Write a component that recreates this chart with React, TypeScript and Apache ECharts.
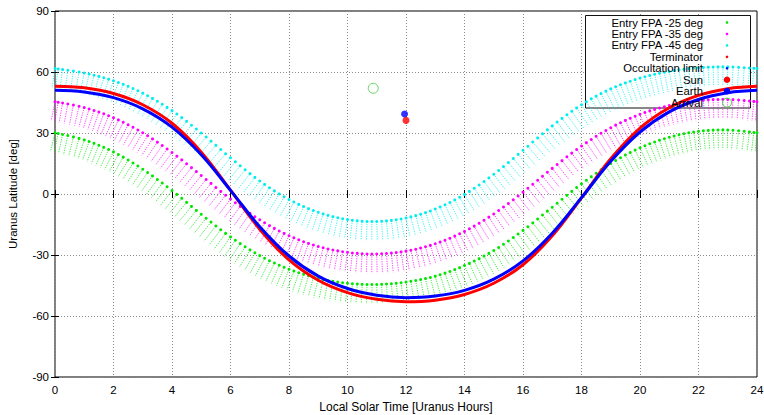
import React, { useEffect, useRef } from 'react';
import * as echarts from 'echarts';

const HOURS = [0, 1, 2, 3, 4, 5, 6, 7, 8, 9, 10, 11, 12, 13, 14, 15, 16, 17, 18, 19, 20, 21, 22, 23, 24];

const FPA25_UPPER = [30.1, 26.6, 20.7, 12.2, 1.7, -10.0, -21.1, -30.3, -37.0, -41.5, -43.9, -44.5, -43.3, -40.4, -35.2, -27.8, -17.9, -6.5, 5.0, 15.0, 22.7, 27.9, 30.8, 31.5, 30.1];
const FPA25_LOWER = [20.5, 16.5, 9.9, 0.8, -10.4, -22.2, -33.0, -41.5, -47.5, -51.4, -53.5, -54.0, -53.0, -50.4, -45.9, -39.2, -30.0, -18.7, -6.9, 3.8, 12.2, 17.9, 21.2, 22.0, 20.5];
const FPA35_UPPER = [45.4, 42.5, 37.5, 30.1, 20.4, 9.1, -2.5, -12.7, -20.5, -25.8, -28.7, -29.5, -28.1, -24.5, -18.4, -9.8, 0.9, 12.6, 23.6, 32.6, 39.2, 43.5, 45.9, 46.5, 45.4];
const FPA35_LOWER = [35.7, 32.4, 26.8, 18.8, 8.5, -3.0, -14.3, -23.8, -31.0, -35.7, -38.3, -39.0, -37.8, -34.5, -29.1, -21.2, -11.0, 0.5, 11.8, 21.5, 28.8, 33.6, 36.3, 37.0, 35.7];
const FPA45_UPPER = [61.7, 59.5, 55.7, 49.6, 41.0, 30.0, 17.8, 6.4, -2.7, -9.0, -12.6, -13.5, -11.8, -7.4, -0.2, 9.7, 21.5, 33.5, 43.9, 51.7, 57.0, 60.3, 62.1, 62.5, 61.7];
const FPA45_LOWER = [52.0, 49.4, 44.8, 38.0, 28.7, 17.4, 5.6, -5.0, -13.3, -19.0, -22.2, -23.0, -21.5, -17.6, -11.1, -2.0, 9.1, 20.9, 31.7, 40.3, 46.4, 50.3, 52.5, 53.0, 52.0];
const TERMINATOR = [53.0, 52.2, 49.4, 43.9, 34.8, 20.6, 1.9, -17.3, -32.4, -42.4, -48.5, -51.8, -53.0, -52.2, -49.4, -43.9, -34.8, -20.6, -1.9, 17.3, 32.4, 42.4, 48.5, 51.8, 53.0];
const OCCULTATION = [51.0, 50.2, 47.4, 41.9, 32.9, 19.3, 1.8, -16.1, -30.5, -40.4, -46.5, -49.8, -51.0, -50.2, -47.4, -41.9, -32.9, -19.3, -1.8, 16.1, 30.5, 40.4, 46.5, 49.8, 51.0];

const SUN = [12.0, 36.2];
const EARTH = [11.95, 39.3];
const ARRIVAL = [10.88, 52.0];

const LEGEND_LABELS = [
  'Entry FPA -25 deg',
  'Entry FPA -35 deg',
  'Entry FPA -45 deg',
  'Terminator',
  'Occultation limit',
  'Sun',
  'Earth',
  'Arrival',
];

const GREEN = '#00e600';
const MAGENTA = '#ff00ff';
const CYAN = '#00eeee';
const RED = '#ff0000';
const BLUE = '#0000ff';
const FONT = 'Liberation Sans, Arial, Helvetica, sans-serif';

function cr(P: number[][], f: number, c: number) {
  const p0 = P[0][c], p1 = P[1][c], p2 = P[2][c], p3 = P[3][c];
  return 0.5 * (2 * p1 + (-p0 + p2) * f + (2 * p0 - 5 * p1 + 4 * p2 - p3) * f * f + (-p0 + 3 * p1 - 3 * p2 + p3) * f * f * f);
}
function crd(P: number[][], f: number, c: number) {
  const p0 = P[0][c], p1 = P[1][c], p2 = P[2][c], p3 = P[3][c];
  return 0.5 * ((-p0 + p2) + 2 * (2 * p0 - 5 * p1 + 4 * p2 - p3) * f + 3 * (-p0 + 3 * p1 - 3 * p2 + p3) * f * f);
}

function bandRenderer(up: number[], low: number[], color: string) {
  const n = HOURS.length;
  const cl = (k: number) => Math.max(0, Math.min(n - 1, k));
  return (params: any, api: any) => {
    const i = params.dataIndex;
    if (i >= n - 1) return { type: 'group', children: [] };
    const ks = [i - 1, i, i + 1, i + 2].map(cl);
    const pu = ks.map((k) => api.coord([HOURS[k], up[k]]));
    const pl = ks.map((k) => api.coord([HOURS[k], low[k]]));
    const steps = 6;
    const count = i === n - 2 ? steps + 1 : steps;
    const hatches: any[] = [];
    const dots: any[] = [];
    for (let s = 0; s < count; s++) {
      const f = s / steps;
      const ux = cr(pu, f, 0), uy = cr(pu, f, 1);
      const ly = cr(pl, f, 1);
      const dx = crd(pu, f, 0), dy = crd(pu, f, 1);
      const g = ly - uy;
      const d2 = dx * dx + dy * dy;
      const ex = ux - (dy * g * dx) / d2;
      const ey = uy + (dx * dx * g) / d2;
      hatches.push({
        type: 'line',
        shape: { x1: ux, y1: uy, x2: ex, y2: ey },
        style: { stroke: color, lineWidth: 1, lineDash: [1.3, 1.1], opacity: 0.7 },
        silent: true,
      });
      dots.push({
        type: 'circle',
        shape: { cx: ux, cy: uy, r: 1.5 },
        style: { fill: color },
        silent: true,
      });
    }
    return { type: 'group', children: hatches.concat(dots) };
  };
}

function bandData(up: number[], low: number[]) {
  return HOURS.map((t, i) => [t, up[i], low[i]]);
}

const LEGEND_Y0 = 22.5;
const LEGEND_DY = 11.45;

function legendGraphics() {
  const els: any[] = [
    {
      type: 'rect',
      shape: { x: 585.5, y: 15.5, width: 165, height: 92.5 },
      style: { fill: '#fff', stroke: '#111', lineWidth: 1 },
      z: 0.5,
      silent: true,
    },
  ];
  LEGEND_LABELS.forEach((label, k) => {
    const y = LEGEND_Y0 + LEGEND_DY * k;
    els.push({
      type: 'text',
      x: 703,
      y,
      z: 100,
      style: {
        text: label,
        fill: '#000',
        fontSize: 11.3,
        fontFamily: FONT,
        align: 'right',
        verticalAlign: 'middle',
        textAlign: 'right',
        textVerticalAlign: 'middle',
      },
    });
  });
  const iconX = 727;
  const small = [GREEN, MAGENTA, CYAN, RED, BLUE];
  small.forEach((c, k) => {
    els.push({ type: 'circle', z: 100, shape: { cx: iconX, cy: LEGEND_Y0 + LEGEND_DY * k, r: 1.3 }, style: { fill: c } });
  });
  els.push({ type: 'circle', z: 100, shape: { cx: iconX, cy: LEGEND_Y0 + LEGEND_DY * 5, r: 3.3 }, style: { fill: RED } });
  els.push({ type: 'circle', z: 100, shape: { cx: iconX, cy: LEGEND_Y0 + LEGEND_DY * 6, r: 3.3 }, style: { fill: BLUE } });
  els.push({ type: 'circle', z: 100, shape: { cx: iconX, cy: LEGEND_Y0 + LEGEND_DY * 7, r: 4.5 }, style: { fill: 'none', stroke: '#44cc44', lineWidth: 1 } });
  return els;
}

const axisLabelStyle = { color: '#000', fontSize: 11.5, fontFamily: FONT };
const gridLine = { show: true, lineStyle: { color: '#8a8a8a', width: 1, type: [1, 2] as any } };

export default function App() {
  const ref = useRef<HTMLDivElement>(null);
  useEffect(() => {
    document.body.style.margin = '0';
    const chart = echarts.init(ref.current!, null, { renderer: 'svg' });
    const option: any = {
      animation: false,
      backgroundColor: '#fff',
      grid: {
        left: 55,
        right: 7,
        top: 11,
        bottom: 38,
        containLabel: false,
        outerBoundsMode: 'none',
        show: true,
        borderColor: '#000',
        borderWidth: 1,
        backgroundColor: 'transparent',
      },
      xAxis: [
        {
          type: 'value',
          min: 0,
          max: 24,
          interval: 2,
          position: 'bottom',
          name: 'Local Solar Time [Uranus Hours]',
          nameLocation: 'middle',
          nameGap: 21,
          nameTextStyle: { color: '#000', fontSize: 12, fontFamily: FONT },
          axisLine: { show: false },
          axisTick: { show: true, inside: true, length: 4, lineStyle: { color: '#000' } },
          axisLabel: { ...axisLabelStyle, margin: 7 },
          splitLine: gridLine,
        },
        {
          type: 'value',
          min: 0,
          max: 24,
          interval: 2,
          position: 'top',
          axisLine: { show: false },
          axisTick: { show: true, inside: true, length: 4, lineStyle: { color: '#000' } },
          axisLabel: { show: false },
          splitLine: { show: false },
        },
      ],
      yAxis: [
        {
          type: 'value',
          min: -90,
          max: 90,
          interval: 30,
          position: 'left',
          name: 'Uranus Latitude [deg]',
          nameLocation: 'middle',
          nameGap: 36,
          nameTextStyle: { color: '#000', fontSize: 11.5, fontFamily: FONT },
          axisLine: { show: false },
          axisTick: { show: true, inside: true, length: 4, lineStyle: { color: '#000' } },
          axisLabel: { ...axisLabelStyle, margin: 6 },
          splitLine: gridLine,
        },
        {
          type: 'value',
          min: -90,
          max: 90,
          interval: 30,
          position: 'right',
          axisLine: { show: false },
          axisTick: { show: true, inside: true, length: 4, lineStyle: { color: '#000' } },
          axisLabel: { show: false },
          splitLine: { show: false },
        },
      ],
      graphic: legendGraphics(),
      series: [
        {
          name: 'Entry FPA -25 deg',
          type: 'custom',
          coordinateSystem: 'cartesian2d',
          xAxisIndex: 0,
          yAxisIndex: 0,
          z: 1,
          silent: true,
          data: bandData(FPA25_UPPER, FPA25_LOWER),
          encode: { x: 0, y: [1, 2] },
          renderItem: bandRenderer(FPA25_UPPER, FPA25_LOWER, GREEN),
        },
        {
          name: 'Entry FPA -35 deg',
          type: 'custom',
          coordinateSystem: 'cartesian2d',
          xAxisIndex: 0,
          yAxisIndex: 0,
          z: 1,
          silent: true,
          data: bandData(FPA35_UPPER, FPA35_LOWER),
          encode: { x: 0, y: [1, 2] },
          renderItem: bandRenderer(FPA35_UPPER, FPA35_LOWER, MAGENTA),
        },
        {
          name: 'Entry FPA -45 deg',
          type: 'custom',
          coordinateSystem: 'cartesian2d',
          xAxisIndex: 0,
          yAxisIndex: 0,
          z: 1,
          silent: true,
          data: bandData(FPA45_UPPER, FPA45_LOWER),
          encode: { x: 0, y: [1, 2] },
          renderItem: bandRenderer(FPA45_UPPER, FPA45_LOWER, CYAN),
        },
        {
          name: 'Terminator',
          type: 'line',
          xAxisIndex: 0,
          yAxisIndex: 0,
          z: 3,
          smooth: 0.4,
          symbol: 'none',
          lineStyle: { color: RED, width: 3 },
          data: HOURS.map((t, i) => [t, TERMINATOR[i]]),
        },
        {
          name: 'Occultation limit',
          type: 'line',
          xAxisIndex: 0,
          yAxisIndex: 0,
          z: 3,
          smooth: 0.4,
          symbol: 'none',
          lineStyle: { color: BLUE, width: 3 },
          data: HOURS.map((t, i) => [t, OCCULTATION[i]]),
        },
        {
          name: 'Earth',
          type: 'scatter',
          z: 4,
          symbol: 'circle',
          symbolSize: 7,
          itemStyle: { color: BLUE },
          data: [EARTH],
        },
        {
          name: 'Sun',
          type: 'scatter',
          z: 5,
          symbol: 'circle',
          symbolSize: 7,
          itemStyle: { color: RED },
          data: [SUN],
        },
        {
          name: 'Arrival',
          type: 'scatter',
          z: 5,
          symbol: 'circle',
          symbolSize: 10,
          itemStyle: { color: 'rgba(0,0,0,0)', borderColor: '#44cc44', borderWidth: 1 },
          data: [ARRIVAL],
        },
      ],
    };
    chart.setOption(option);
    return () => chart.dispose();
  }, []);
  return <div ref={ref} style={{ width: 764, height: 415 }} />;
}
